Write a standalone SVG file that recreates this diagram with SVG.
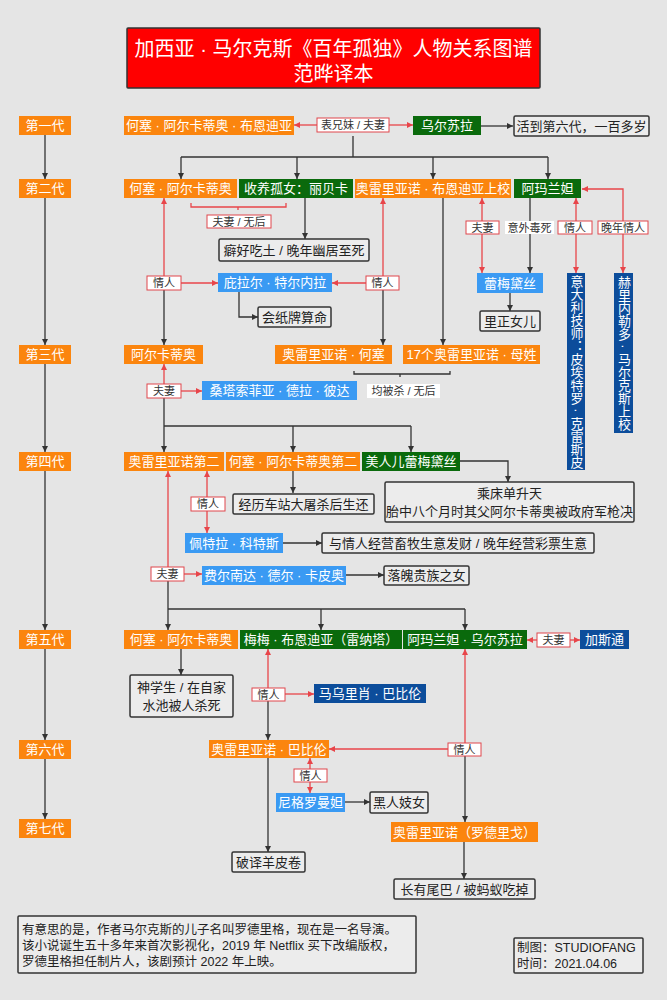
<svg xmlns="http://www.w3.org/2000/svg" width="667" height="1000" viewBox="0 0 667 1000">
<defs>
<marker id="ak" markerUnits="userSpaceOnUse" markerWidth="7" markerHeight="7" refX="6" refY="3" orient="auto"><path d="M0,0 L6,3 L0,6 z" fill="#333"/></marker>
<marker id="ar" markerUnits="userSpaceOnUse" markerWidth="7" markerHeight="7" refX="6" refY="3" orient="auto"><path d="M0,0 L6,3 L0,6 z" fill="#e8454a"/></marker>
<style>
text{font-family:"Liberation Sans","Noto Sans CJK SC",sans-serif;}
.o{fill:#fb850e}.g{fill:#0a6a0c}.lb{fill:#3a9af3}.db{fill:#0c4d9b}
.t{font-size:13px;fill:#fff;text-anchor:middle;dominant-baseline:central}
.n{fill:#ececec;stroke:#333;stroke-width:1.5}
.nt{font-size:13px;fill:#222;text-anchor:middle;dominant-baseline:central}
.lr{fill:#fff;stroke:#e0474c;stroke-width:1}
.lw{fill:#fff}
.lt{font-size:11px;fill:#333;text-anchor:middle;dominant-baseline:central}
.k{stroke:#333;stroke-width:1.3;fill:none}
.ka{stroke:#333;stroke-width:1.3;fill:none;marker-end:url(#ak)}
.r{stroke:#e8454a;stroke-width:1.3;fill:none}
.ra{stroke:#e8454a;stroke-width:1.3;fill:none;marker-end:url(#ar)}
.vt{font-size:13px;fill:#fff;text-anchor:middle;writing-mode:tb}
.ft{font-size:12.5px;fill:#222;dominant-baseline:central}
</style>
</defs>
<rect width="667" height="1000" fill="#e5e5e5"/>

<g id="title">
<rect x="127" y="28" width="413" height="60" fill="#ff0000" stroke="#333" stroke-width="1.5" rx="1"/>
<text x="333.5" y="49" font-size="20" fill="#fff" text-anchor="middle" dominant-baseline="central">加西亚 · 马尔克斯《百年孤独》人物关系图谱</text>
<text x="333.5" y="74" font-size="20" fill="#fff" text-anchor="middle" dominant-baseline="central">范晔译本</text>
</g>

<g id="connectors">
<line class="ka" x1="45" y1="134" x2="45" y2="179"/>
<line class="ka" x1="45" y1="198" x2="45" y2="345"/>
<line class="ka" x1="45" y1="364" x2="45" y2="452"/>
<line class="ka" x1="45" y1="471" x2="45" y2="630"/>
<line class="ka" x1="45" y1="649" x2="45" y2="740"/>
<line class="ka" x1="45" y1="758" x2="45" y2="819"/>
<line class="ra" x1="317" y1="125" x2="294" y2="125"/>
<line class="ra" x1="389" y1="125" x2="413" y2="125"/>
<line class="ka" x1="481" y1="126" x2="513" y2="126"/>
<path class="k" d="M353,136 V157 M181,157 H548"/>
<line class="ka" x1="181" y1="157" x2="181" y2="179"/>
<line class="ka" x1="297" y1="157" x2="297" y2="179"/>
<line class="ka" x1="433" y1="157" x2="433" y2="179"/>
<line class="ka" x1="548" y1="157" x2="548" y2="179"/>
<path class="r" d="M191,203 V207 H286 V203 M238,207 V210"/>
<line class="ka" x1="305" y1="198" x2="305" y2="239"/>
<line class="ra" x1="164" y1="276" x2="164" y2="198"/>
<line class="ka" x1="164" y1="290" x2="164" y2="345"/>
<line class="ra" x1="181" y1="283" x2="218" y2="283"/>
<line class="ra" x1="366" y1="283" x2="332" y2="283"/>
<line class="ra" x1="383" y1="276" x2="383" y2="198"/>
<line class="ka" x1="383" y1="290" x2="383" y2="345"/>
<line class="ka" x1="443" y1="198" x2="443" y2="345"/>
<path class="ka" d="M239,292 V317 H258"/>
<line class="ra" x1="482" y1="221" x2="482" y2="198"/>
<line class="ra" x1="482" y1="234" x2="482" y2="273"/>
<line class="ka" x1="530" y1="198" x2="530" y2="273"/>
<line class="ka" x1="510" y1="293" x2="510" y2="311"/>
<line class="ra" x1="576" y1="221" x2="576" y2="198"/>
<line class="ra" x1="576" y1="234" x2="576" y2="273"/>
<path class="ra" d="M623,221 V189 H582"/>
<line class="ra" x1="623" y1="234" x2="623" y2="273"/>
<path class="k" d="M354,371 V374 H450 V371 M400,374 V377"/>
<line class="ra" x1="164" y1="384" x2="164" y2="364"/>
<line class="ra" x1="181" y1="391" x2="202" y2="391"/>
<path class="k" d="M164,426 H411"/>
<line class="ka" x1="164" y1="398" x2="164" y2="452"/>
<line class="ka" x1="293" y1="426" x2="293" y2="452"/>
<line class="ka" x1="411" y1="426" x2="411" y2="452"/>
<path class="ka" d="M460,461 H508 V482"/>
<line class="ka" x1="293" y1="471" x2="293" y2="493"/>
<line class="ra" x1="207" y1="497" x2="207" y2="471"/>
<line class="ra" x1="207" y1="511" x2="207" y2="533"/>
<line class="ka" x1="283" y1="543" x2="322" y2="543"/>
<line class="ra" x1="168" y1="567" x2="168" y2="471"/>
<line class="ra" x1="184" y1="574" x2="202" y2="574"/>
<line class="ka" x1="346" y1="575" x2="384" y2="575"/>
<path class="k" d="M168,609 H465"/>
<line class="ka" x1="168" y1="581" x2="168" y2="630"/>
<line class="ka" x1="321" y1="609" x2="321" y2="630"/>
<line class="ka" x1="465" y1="609" x2="465" y2="630"/>
<line class="ra" x1="537" y1="640" x2="527" y2="640"/>
<line class="ra" x1="570" y1="640" x2="580" y2="640"/>
<line class="ka" x1="181" y1="649" x2="181" y2="675"/>
<line class="ra" x1="268" y1="688" x2="268" y2="649"/>
<line class="ra" x1="285" y1="694" x2="314" y2="694"/>
<line class="ka" x1="268" y1="700" x2="268" y2="740"/>
<line class="ra" x1="465" y1="743" x2="465" y2="649"/>
<line class="ra" x1="448" y1="749" x2="329" y2="749"/>
<line class="ka" x1="268" y1="758" x2="268" y2="852"/>
<line class="ra" x1="310" y1="769" x2="310" y2="758"/>
<line class="ra" x1="310" y1="782" x2="310" y2="793"/>
<line class="ka" x1="345" y1="802" x2="370" y2="802"/>
<line class="ka" x1="465" y1="756" x2="465" y2="822"/>
<line class="ka" x1="464" y1="842" x2="464" y2="879"/>
</g>

<g id="gen-labels">
<g id="gen1"><rect class="o" x="19" y="116" width="52" height="19"/><text class="t" x="45" y="125.5">第一代</text></g>
<g id="gen2"><rect class="o" x="19" y="179" width="52" height="19"/><text class="t" x="45" y="188.5">第二代</text></g>
<g id="gen3"><rect class="o" x="19" y="345" width="52" height="19"/><text class="t" x="45" y="354.5">第三代</text></g>
<g id="gen4"><rect class="o" x="19" y="452" width="52" height="19"/><text class="t" x="45" y="461.5">第四代</text></g>
<g id="gen5"><rect class="o" x="19" y="630" width="52" height="19"/><text class="t" x="45" y="639.5">第五代</text></g>
<g id="gen6"><rect class="o" x="19" y="740" width="52" height="19"/><text class="t" x="45" y="749.5">第六代</text></g>
<g id="gen7"><rect class="o" x="19" y="819" width="52" height="19"/><text class="t" x="45" y="828.5">第七代</text></g>
</g>

<g id="jose-arcadio-buendia"><rect class="o" x="124" y="116" width="170" height="19"/><text class="t" x="209" y="125.5">何塞 · 阿尔卡蒂奥 · 布恩迪亚</text></g>
<g id="lbl-cousins"><rect class="lr" x="317" y="118" width="72" height="14"/><text class="lt" x="353" y="125">表兄妹 / 夫妻</text></g>
<g id="ursula"><rect class="g" x="413" y="116" width="68" height="19"/><text class="t" x="447" y="125.5">乌尔苏拉</text></g>
<g id="note-ursula"><rect class="n" x="514" y="116" width="135" height="20" rx="1.5"/><text class="nt" x="581.5" y="126">活到第六代，一百多岁</text></g>

<g id="jose-arcadio"><rect class="o" x="124" y="179" width="113" height="19"/><text class="t" x="180.5" y="188.5">何塞 · 阿尔卡蒂奥</text></g>
<g id="rebeca"><rect class="g" x="239" y="179" width="114" height="19"/><text class="t" x="296" y="188.5">收养孤女：丽贝卡</text></g>
<g id="colonel"><rect class="o" x="355" y="179" width="156" height="19"/><text class="t" x="433" y="188.5">奥雷里亚诺 · 布恩迪亚上校</text></g>
<g id="amaranta"><rect class="g" x="514" y="179" width="67" height="19"/><text class="t" x="547.5" y="188.5">阿玛兰妲</text></g>
<g id="lbl-couple-nochild"><rect class="lr" x="207" y="215" width="64" height="13"/><text class="lt" x="239" y="221.5">夫妻 / 无后</text></g>
<g id="note-rebeca"><rect class="n" x="219" y="239" width="150" height="22" rx="1.5"/><text class="nt" x="294" y="250">癖好吃土 / 晚年幽居至死</text></g>
<g id="lbl-lover-a"><rect class="lr" x="147" y="276" width="34" height="14"/><text class="lt" x="164" y="283">情人</text></g>
<g id="pilar"><rect class="lb" x="218" y="273" width="114" height="19"/><text class="t" x="275" y="282.5">庇拉尔 · 特尔内拉</text></g>
<g id="lbl-lover-b"><rect class="lr" x="366" y="276" width="33" height="14"/><text class="lt" x="382.5" y="283">情人</text></g>
<g id="note-pilar"><rect class="n" x="258" y="307" width="73" height="20" rx="1.5"/><text class="nt" x="294.5" y="317">会纸牌算命</text></g>
<g id="lbl-couple-a"><rect class="lr" x="466" y="221" width="33" height="13"/><text class="lt" x="482.5" y="227.5">夫妻</text></g>
<g id="lbl-poison"><rect class="lw" x="505" y="221" width="49" height="13"/><text class="lt" x="529.5" y="227.5">意外毒死</text></g>
<g id="lbl-lover-c"><rect class="lr" x="558" y="221" width="34" height="13"/><text class="lt" x="575" y="227.5">情人</text></g>
<g id="lbl-late-lover"><rect class="lr" x="598" y="221" width="50" height="13"/><text class="lt" x="623" y="227.5">晚年情人</text></g>
<g id="remedios"><rect class="lb" x="477" y="273" width="66" height="20"/><text class="t" x="510" y="283">蕾梅黛丝</text></g>
<g id="note-remedios"><rect class="n" x="480" y="311" width="60" height="20" rx="1.5"/><text class="nt" x="510" y="321">里正女儿</text></g>
<g id="pietro"><rect class="db" x="567" y="273" width="18" height="197"/><text class="vt" x="576" y="371.5">意大利技师：皮埃特罗 · 克雷斯皮</text></g>
<g id="gerineldo"><rect class="db" x="614" y="273" width="19" height="160"/><text class="vt" x="623.5" y="353">赫里内勒多 · 马尔克斯上校</text></g>

<g id="arcadio"><rect class="o" x="124" y="345" width="79" height="19"/><text class="t" x="163.5" y="354.5">阿尔卡蒂奥</text></g>
<g id="aureliano-jose"><rect class="o" x="275" y="345" width="117" height="19"/><text class="t" x="333.5" y="354.5">奥雷里亚诺 · 何塞</text></g>
<g id="seventeen"><rect class="o" x="403" y="345" width="137" height="19"/><text class="t" x="471.5" y="354.5">17个奥雷里亚诺 · 母姓</text></g>
<g id="lbl-killed"><rect class="lw" x="367" y="384" width="73" height="14"/><text class="lt" x="403.5" y="391">均被杀 / 无后</text></g>
<g id="lbl-couple-b"><rect class="lr" x="147" y="384" width="34" height="14"/><text class="lt" x="164" y="391">夫妻</text></g>
<g id="santa-sofia"><rect class="lb" x="202" y="381" width="155" height="19"/><text class="t" x="279.5" y="390.5">桑塔索菲亚 · 德拉 · 彼达</text></g>

<g id="aureliano-segundo"><rect class="o" x="124" y="452" width="100" height="19"/><text class="t" x="174" y="461.5">奥雷里亚诺第二</text></g>
<g id="jose-arcadio-segundo"><rect class="o" x="226" y="452" width="134" height="19"/><text class="t" x="293" y="461.5">何塞 · 阿尔卡蒂奥第二</text></g>
<g id="remedios-beauty"><rect class="g" x="362" y="452" width="98" height="19"/><text class="t" x="411" y="461.5">美人儿蕾梅黛丝</text></g>
<g id="note-beauty"><rect class="n" x="385" y="482" width="249" height="40" rx="1.5"/><text class="nt" x="509.5" y="493">乘床单升天</text><text class="nt" x="509.5" y="511">胎中八个月时其父阿尔卡蒂奥被政府军枪决</text></g>
<g id="note-jas"><rect class="n" x="233" y="494" width="141" height="20" rx="1.5"/><text class="nt" x="303.5" y="504">经历车站大屠杀后生还</text></g>
<g id="lbl-lover-d"><rect class="lr" x="191" y="497" width="34" height="14"/><text class="lt" x="208" y="504">情人</text></g>
<g id="petra"><rect class="lb" x="185" y="533" width="98" height="20"/><text class="t" x="234" y="543">佩特拉 · 科特斯</text></g>
<g id="note-petra"><rect class="n" x="322" y="533" width="272" height="20" rx="1.5"/><text class="nt" x="458" y="543">与情人经营畜牧生意发财 / 晚年经营彩票生意</text></g>
<g id="lbl-couple-c"><rect class="lr" x="151" y="567" width="33" height="14"/><text class="lt" x="167.5" y="574">夫妻</text></g>
<g id="fernanda"><rect class="lb" x="202" y="566" width="144" height="19"/><text class="t" x="274" y="575.5">费尔南达 · 德尔 · 卡皮奥</text></g>
<g id="note-fernanda"><rect class="n" x="384" y="566" width="85" height="19" rx="1.5"/><text class="nt" x="426.5" y="575.5">落魄贵族之女</text></g>

<g id="jose-arcadio-5"><rect class="o" x="124" y="630" width="114" height="19"/><text class="t" x="181" y="639.5">何塞 · 阿尔卡蒂奥</text></g>
<g id="meme"><rect class="g" x="240" y="630" width="162" height="19"/><text class="t" x="321" y="639.5">梅梅 · 布恩迪亚（雷纳塔）</text></g>
<g id="amaranta-ursula"><rect class="g" x="403" y="630" width="124" height="19"/><text class="t" x="465" y="639.5">阿玛兰妲 · 乌尔苏拉</text></g>
<g id="lbl-couple-d"><rect class="lr" x="537" y="633" width="33" height="14"/><text class="lt" x="553.5" y="640">夫妻</text></g>
<g id="gaston"><rect class="db" x="580" y="630" width="49" height="19"/><text class="t" x="604.5" y="639.5">加斯通</text></g>
<g id="note-jose5"><rect class="n" x="130" y="675" width="103" height="42" rx="1.5"/><text class="nt" x="181.5" y="687">神学生 / 在自家</text><text class="nt" x="181.5" y="705">水池被人杀死</text></g>
<g id="lbl-lover-e"><rect class="lr" x="252" y="688" width="33" height="13"/><text class="lt" x="268.5" y="694.5">情人</text></g>
<g id="mauricio"><rect class="db" x="314" y="684" width="112" height="19"/><text class="t" x="370" y="693.5">马乌里肖 · 巴比伦</text></g>

<g id="aureliano-babilonia"><rect class="o" x="209" y="740" width="120" height="18"/><text class="t" x="269" y="749">奥雷里亚诺 · 巴比伦</text></g>
<g id="lbl-lover-f"><rect class="lr" x="448" y="743" width="33" height="13"/><text class="lt" x="464.5" y="749.5">情人</text></g>
<g id="lbl-lover-g"><rect class="lr" x="294" y="769" width="33" height="13"/><text class="lt" x="310.5" y="775.5">情人</text></g>
<g id="nigromanta"><rect class="lb" x="276" y="793" width="69" height="19"/><text class="t" x="310.5" y="802.5">尼格罗曼妲</text></g>
<g id="note-nigromanta"><rect class="n" x="370" y="792" width="58" height="21" rx="1.5"/><text class="nt" x="399" y="802.5">黑人妓女</text></g>
<g id="note-babilonia"><rect class="n" x="232" y="852" width="73" height="20" rx="1.5"/><text class="nt" x="268.5" y="862">破译羊皮卷</text></g>

<g id="rodrigo"><rect class="o" x="391" y="822" width="147" height="20"/><text class="t" x="464.5" y="832">奥雷里亚诺（罗德里戈）</text></g>
<g id="note-rodrigo"><rect class="n" x="394" y="879" width="141" height="20" rx="1.5"/><text class="nt" x="464.5" y="889">长有尾巴 / 被蚂蚁吃掉</text></g>

<g id="footnote">
<rect class="n" x="18" y="916" width="398" height="57" rx="1" stroke-width="1"/>
<text class="ft" x="22" y="930">有意思的是，作者马尔克斯的儿子名叫罗德里格，现在是一名导演。</text>
<text class="ft" x="22" y="946">该小说诞生五十多年来首次影视化，2019 年 Netflix 买下改编版权，</text>
<text class="ft" x="22" y="962">罗德里格担任制片人，该剧预计 2022 年上映。</text>
</g>
<g id="credit">
<rect class="n" x="514" y="938" width="129" height="35" rx="1" stroke-width="1"/>
<text class="ft" x="517" y="948">制图：STUDIOFANG</text>
<text class="ft" x="517" y="964">时间：2021.04.06</text>
</g>
</svg>
